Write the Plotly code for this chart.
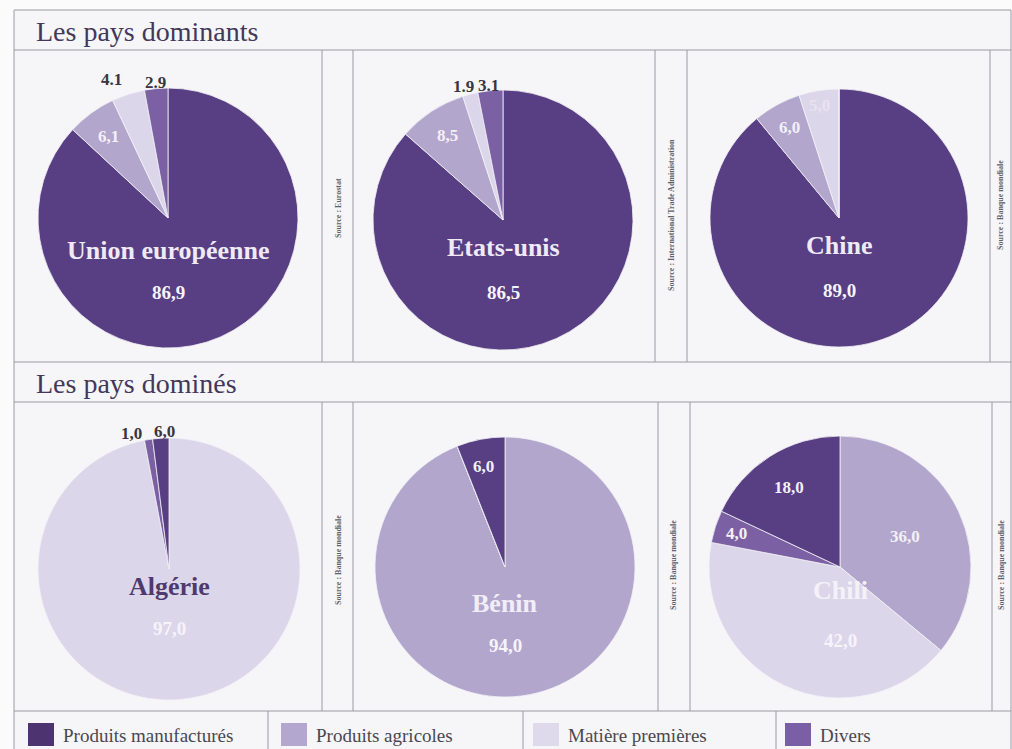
import math
import plotly.graph_objects as go

# ---------------- data ----------------
categories = ["Produits manufacturés", "Produits agricoles", "Matière premières", "Divers"]
countries = ["Union européenne", "Etats-unis", "Chine", "Algérie", "Bénin", "Chili"]
sources = ["Source : Eurostat", "Source : International Trade Administration", "Source : Banque mondiale",
           "Source : Banque mondiale", "Source : Banque mondiale", "Source : Banque mondiale"]
section_titles = ["Les pays dominants", "Les pays dominés"]

# values in category order (manufacturés, agricoles, matières, divers)
val_ue = [86.9, 6.1, 4.1, 2.9]
val_us = [86.5, 8.5, 1.9, 3.1]
val_chine = [89.0, 6.0, 5.0, 0.0]
val_algerie = [2.0, 0.0, 97.0, 1.0]
val_benin = [6.0, 94.0, 0.0, 0.0]
val_chili = [18.0, 36.0, 42.0, 4.0]

# printed labels as they appear on the document
txt_ue = ["86,9", "6,1", "4.1", "2.9"]
txt_us = ["86,5", "8,5", "1.9", "3.1"]
txt_chine = ["89,0", "6,0", "5,0", ""]
txt_algerie = ["6,0", "", "97,0", "1,0"]
txt_benin = ["6,0", "94,0", "", ""]
txt_chili = ["18,0", "36,0", "42,0", "4,0"]

values = [val_ue, val_us, val_chine, val_algerie, val_benin, val_chili]
texts = [txt_ue, txt_us, txt_chine, txt_algerie, txt_benin, txt_chili]

# ---------------- styles / layout ----------------
W, H = 1012, 749
FONT = "Liberation Serif"
colors = ["#583e82", "#b2a6cd", "#dcd6ea", "#7b61a4"]
legend_colors = ["#4d3470", "#b3a7cf", "#dedaeb", "#7a5ea6"]
LINE = "#9c9aa0"
BG = "#f6f5f8"

# pie centre (px), radius (px), clockwise slice order, big-slice index, name/value offsets, name colour
pie_geo = [
    dict(c=(168, 218), r=130, order=[0, 1, 2, 3], big=0, dn=32, dv=74, ncol="#efeaf6"),
    dict(c=(503, 220), r=130, order=[0, 1, 2, 3], big=0, dn=28, dv=72, ncol="#efeaf6"),
    dict(c=(839, 218), r=129, order=[0, 1, 2, 3], big=0, dn=28, dv=72, ncol="#efeaf6"),
    dict(c=(169, 569), r=131, order=[1, 2, 3, 0], big=2, dn=17, dv=59, ncol="#4f3a6e"),
    dict(c=(505, 567), r=130, order=[1, 2, 3, 0], big=1, dn=36, dv=78, ncol="#f1eef7"),
    dict(c=(840, 567), r=131, order=[1, 2, 3, 0], big=2, dn=23, dv=73, ncol="#f4f2f8"),
]
# small labels: category index -> (radius factor, colour, xshift)
DARK = "#3a3640"
WH = "#f3f0f8"
small_style = [
    {1: (0.78, WH, 0), 2: (1.12, DARK, -12), 3: (1.05, DARK, 0)},
    {1: (0.78, WH, 0), 2: (1.06, DARK, -5), 3: (1.04, DARK, -1)},
    {1: (0.80, WH, 0), 2: (0.88, "#e8e3f0", -2)},
    {3: (1.05, DARK, -16), 0: (1.05, DARK, 4)},
    {0: (0.79, WH, -2)},
    {1: (0.55, WH, 0), 3: (0.83, WH, 0), 0: (0.72, WH, 0)},
]
source_pos = [(338, 208), (671, 215), (1001, 205), (338, 560), (673, 565), (1001, 565)]


def px(x):
    return x / W


def py(y):
    return 1 - y / H


def note(x, y, text, size, color, xanchor="center", **kw):
    return dict(x=px(x), y=py(y), xref="paper", yref="paper", text=text, showarrow=False,
                xanchor=xanchor, yanchor="middle", font=dict(family=FONT, size=size, color=color), **kw)


fig = go.Figure()
annotations = []

for i, g in enumerate(pie_geo):
    cx, cy = g["c"]
    r = g["r"]
    order = g["order"]
    vals = [values[i][k] for k in order]
    cols = [colors[k] for k in order]
    labs = [categories[k] for k in order]
    fig.add_trace(go.Pie(
        values=vals, labels=labs, sort=False, direction="clockwise", rotation=0,
        marker=dict(colors=cols, line=dict(color="#f3f1f6", width=0.8)),
        textinfo="none", hoverinfo="label+value", showlegend=False,
        domain=dict(x=[px(cx - r), px(cx + r)], y=[py(cy + r), py(cy - r)]),
    ))
    # small slice labels placed at slice mid-angles
    total = sum(vals)
    cum = 0.0
    for k, v in zip(order, vals):
        mid = (cum + v / 2) / total
        cum += v
        if k == g["big"] or k not in small_style[i]:
            continue
        f, col, xs = small_style[i][k]
        th = 2 * math.pi * mid
        x = cx + f * r * math.sin(th)
        y = cy - f * r * math.cos(th)
        annotations.append(note(x, y, "<b>%s</b>" % texts[i][k], 17, col, xshift=xs))
    # country name and main value
    annotations.append(note(cx, cy + g["dn"], "<b>%s</b>" % countries[i], 26, g["ncol"]))
    annotations.append(note(cx, cy + g["dv"], "<b>%s</b>" % texts[i][g["big"]], 19, "#f6f4fa"))
    sx, sy = source_pos[i]
    annotations.append(note(sx, sy, "<b>%s</b>" % sources[i], 8, "#625f68", textangle=-90))

# section titles
for t, y in zip(section_titles, [31, 383]):
    annotations.append(note(34, y, t, 28, "#43385a", xanchor="left"))

# legend (swatches + text)
shapes = []
leg_x = [28, 281, 533, 785]
for k, lx in enumerate(leg_x):
    shapes.append(dict(type="rect", xref="paper", yref="paper", x0=px(lx), x1=px(lx + 26),
                       y0=py(746), y1=py(723), fillcolor=legend_colors[k], line=dict(width=0)))
    annotations.append(note(lx + 33, 735, categories[k], 19, "#4a4850", xanchor="left"))


def hline(y, x0=14, x1=1011):
    shapes.append(dict(type="line", xref="paper", yref="paper", x0=px(x0), x1=px(x1), y0=py(y), y1=py(y),
                       line=dict(color=LINE, width=1)))


def vline(x, y0, y1):
    shapes.append(dict(type="line", xref="paper", yref="paper", x0=px(x), x1=px(x), y0=py(y0), y1=py(y1),
                       line=dict(color=LINE, width=1)))


# frame background
shapes.insert(0, dict(type="rect", xref="paper", yref="paper", x0=px(14), x1=px(1011), y0=py(749), y1=py(10),
                      fillcolor=BG, line=dict(width=0), layer="below"))
for y in [10, 50, 362, 402, 711]:
    hline(y)
vline(14, 10, 749)
vline(1011, 10, 749)
for x in [322, 353, 655, 687, 990]:
    vline(x, 50, 362)
for x in [322, 353, 658, 690, 992]:
    vline(x, 402, 711)
for x in [268, 523, 776]:
    vline(x, 711, 749)

fig.update_layout(
    width=W, height=H, margin=dict(l=0, r=0, t=0, b=0),
    paper_bgcolor="#fbfbfc", plot_bgcolor="#fbfbfc",
    annotations=annotations, shapes=shapes, showlegend=False,
)
fig.write_html("out.html", config={"displayModeBar": False},
               post_script="document.body.style.margin='0';")
